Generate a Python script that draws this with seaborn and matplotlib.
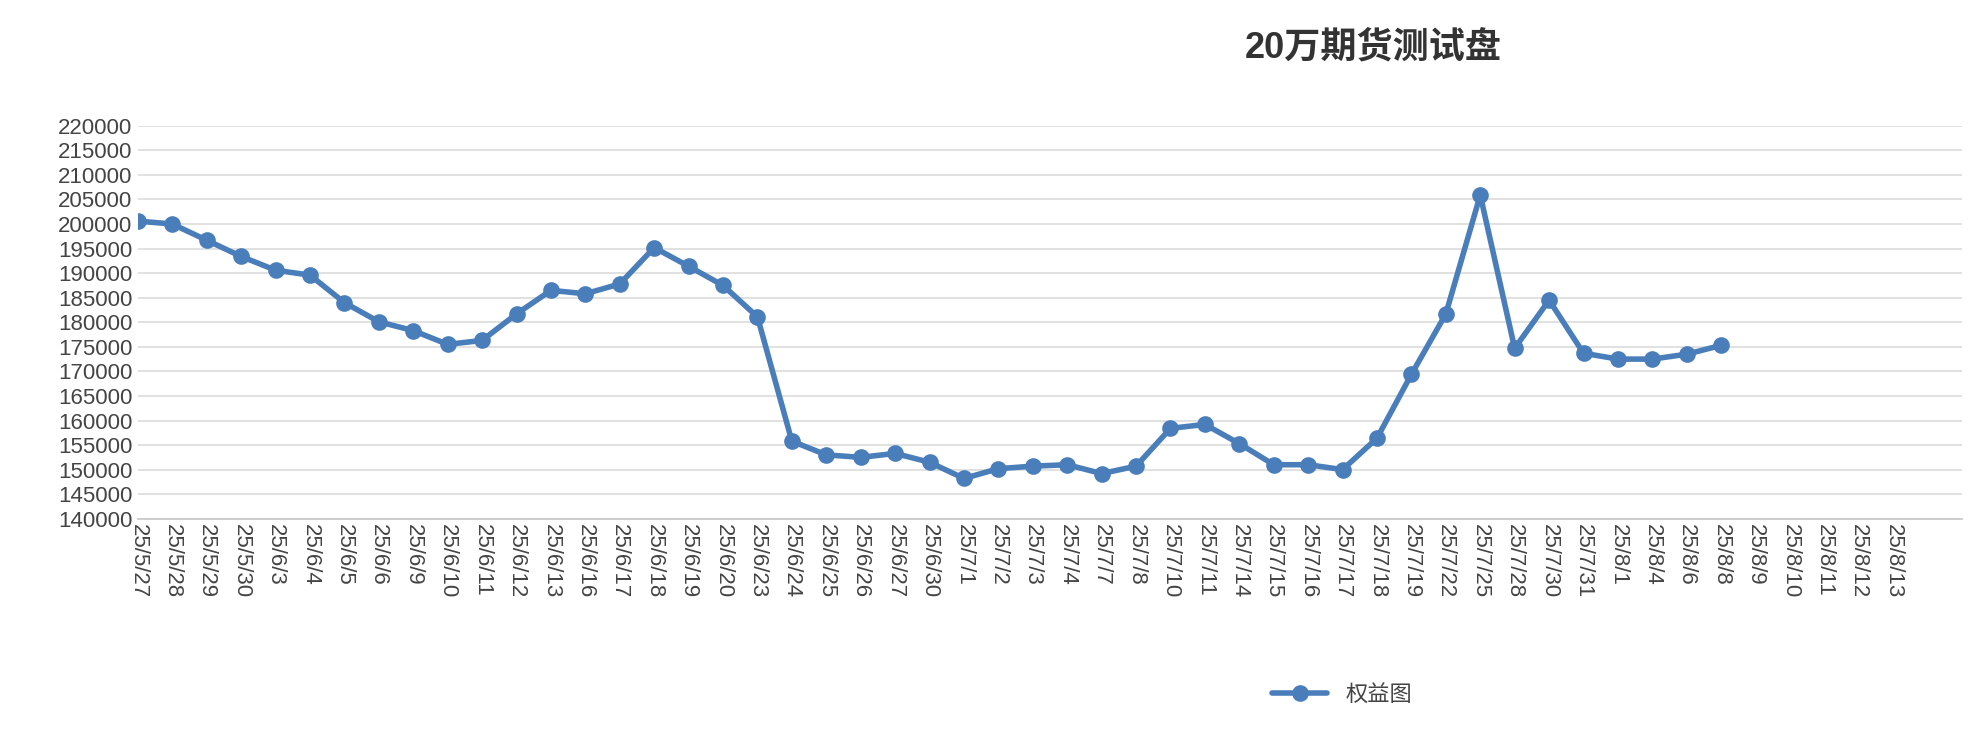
import matplotlib
matplotlib.use("Agg")
import matplotlib.pyplot as plt
import seaborn as sns
import pandas as pd
import numpy as np

labels = ["25/5/27","25/5/28","25/5/29","25/5/30","25/6/3","25/6/4","25/6/5","25/6/6","25/6/9","25/6/10",
          "25/6/11","25/6/12","25/6/13","25/6/16","25/6/17","25/6/18","25/6/19","25/6/20","25/6/23","25/6/24",
          "25/6/25","25/6/26","25/6/27","25/6/30","25/7/1","25/7/2","25/7/3","25/7/4","25/7/7","25/7/8",
          "25/7/10","25/7/11","25/7/14","25/7/15","25/7/16","25/7/17","25/7/18","25/7/19","25/7/22","25/7/25",
          "25/7/28","25/7/30","25/7/31","25/8/1","25/8/4","25/8/6","25/8/8","25/8/9","25/8/10","25/8/11",
          "25/8/12","25/8/13"]
values = [200600,200000,196700,193400,190600,189600,184000,180100,178300,175500,
          176300,181700,186500,185800,187800,195200,191400,187500,181100,155800,
          153000,152500,153300,151500,148200,150200,150700,151000,149200,150700,
          158400,159200,155300,151000,151000,150000,156400,169400,181700,205900,
          174700,184500,173700,172500,172500,173500,175300]

sns.set_theme(style="white")
plt.rcParams['font.family'] = ['Liberation Sans', 'Noto Sans CJK SC', 'DejaVu Sans']

fig = plt.figure(figsize=(19.7, 7.4), dpi=100)
ax = fig.add_axes([0.07, 0.299, 0.926, 0.531])
df = pd.DataFrame({"x": np.arange(len(values)), "y": values, "s": "权益图"})
color = "#4a7ebb"
sns.lineplot(data=df, x="x", y="y", hue="s", palette=[color], marker="o", markersize=12,
             linewidth=4, markeredgewidth=0, ax=ax)

ax.set_xlim(0, 53)
ax.set_ylim(140000, 220000)
ax.set_yticks(np.arange(140000, 220001, 5000))
ax.set_yticklabels([str(v) for v in range(140000, 220001, 5000)], fontsize=16, color="#444444")
ax.set_xticks(np.arange(0, 54))
ax.set_xticklabels(labels + [""] * 2, rotation=270, fontsize=16, color="#444444")
ax.tick_params(axis="x", length=8, color="#c8c8c8", direction="in", pad=4)
ax.tick_params(axis="y", length=0, pad=4)
ax.yaxis.grid(True, color="#dcdcdc", linewidth=1.2)
for s in ["top", "right", "left"]:
    ax.spines[s].set_visible(False)
ax.spines["bottom"].set_color("#c8c8c8")
ax.set_xlabel("")
ax.set_ylabel("")
fig.text(0.697, 0.935, "20万期货测试盘", ha="center", va="center", fontsize=26, fontweight="bold", color="#333333")
leg = ax.legend(loc="center", bbox_to_anchor=(0.66, -0.45), frameon=False, fontsize=16, handlelength=2.5)
for t in leg.get_texts():
    t.set_color("#444444")
fig.savefig("out.png", dpi=100)
